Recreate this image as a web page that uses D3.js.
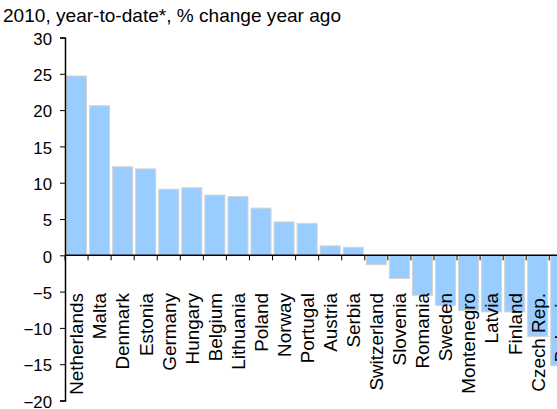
<!DOCTYPE html>
<html>
<head>
<meta charset="utf-8">
<script src="https://cdn.jsdelivr.net/npm/d3@7"></script>
<style>
  body { margin: 0; background: #fff; }
  svg { display: block; font-family: Arial, "Liberation Sans", sans-serif; }
</style>
</head>
<body>
<svg></svg>
<script>

let countries = ['Netherlands', 'Malta', 'Denmark', 'Estonia', 'Germany', 'Hungary', 'Belgium',
  'Lithuania', 'Poland', 'Norway', 'Portugal', 'Austria', 'Serbia', 'Switzerland', 'Slovenia',
  'Romania', 'Sweden', 'Montenegro', 'Latvia', 'Finland', 'Czech Rep.', 'Bulgaria']

let change = [24.7, 20.6, 12.2, 11.9, 9.1, 9.3, 8.3, 8.1, 6.5, 4.6, 4.4, 1.3, 1.1, -1.3, -3.2,
  -5.5, -6.9, -7.6, -7.8, -7.8, -11.2, -15.2]

let yTicks = [-20, -15, -10, -5, 0, 5, 10, 15, 20, 25, 30]

let title = '2010, year-to-date*, % change year ago'

let width = 557, height = 409

let svg = d3.select('svg').attr('width', width).attr('height', height)

let x = d3.scaleBand()
  .domain(countries)
  .range([65, 65 + countries.length * 23.06])
  .paddingInner(0.13)
  .paddingOuter(0.065)

let y = d3.scaleLinear()
  .domain([-20, 30])
  .range([400.5, 37.5])

// the source font runs a little wide, so text gets stretched along its line
svg.append('text')
  .attr('transform', 'translate(3,22) scale(1.06,1)')
  .attr('font-size', 18)
  .attr('fill', '#000')
  .text(title)

// bars
svg.append('g')
  .selectAll('rect')
  .data(countries)
  .enter().append('rect')
  .attr('x', d => x(d))
  .attr('width', x.bandwidth())
  .attr('y', (d, i) => y(Math.max(0, change[i])))
  .attr('height', (d, i) => Math.abs(y(change[i]) - y(0)))
  .attr('fill', '#99ccff')
  .attr('stroke', '#d4d4d4')
  .attr('stroke-width', 1)

// y axis
let yAxis = svg.append('g')
  .attr('transform', 'translate(65,0)')
  .call(d3.axisLeft(y).tickValues(yTicks).tickSize(5))

yAxis.select('.domain').attr('stroke', '#000').attr('stroke-width', 1.5)
yAxis.selectAll('.tick line').attr('stroke', '#000')
yAxis.selectAll('.tick text')
  .attr('x', null)
  .attr('transform', 'translate(-13,0) scale(1.05,1)')
  .attr('font-size', 16)
  .attr('font-family', 'Arial, "Liberation Sans", sans-serif')
  .attr('fill', '#000')
  .attr('dy', '0.42em')

// zero line with category ticks at band edges
let step = x.step()
let edges = d3.range(countries.length + 1).map(i => 65 + i * step)

svg.append('line')
  .attr('x1', 65).attr('x2', width)
  .attr('y1', y(0)).attr('y2', y(0))
  .attr('stroke', '#000').attr('stroke-width', 1.5)

svg.append('g')
  .selectAll('line')
  .data(edges)
  .enter().append('line')
  .attr('x1', d => d).attr('x2', d => d)
  .attr('y1', y(0)).attr('y2', y(0) + 5)
  .attr('stroke', '#000')

// category labels
svg.append('g')
  .selectAll('text')
  .data(countries)
  .enter().append('text')
  .attr('transform', d => 'translate(' + (x(d) + x.bandwidth() / 2) + ',293) rotate(-90) scale(1.05,1)')
  .attr('text-anchor', 'end')
  .attr('dy', '0.38em')
  .attr('font-size', 18)
  .attr('fill', '#000')
  .text(d => d)

</script>
</body>
</html>
